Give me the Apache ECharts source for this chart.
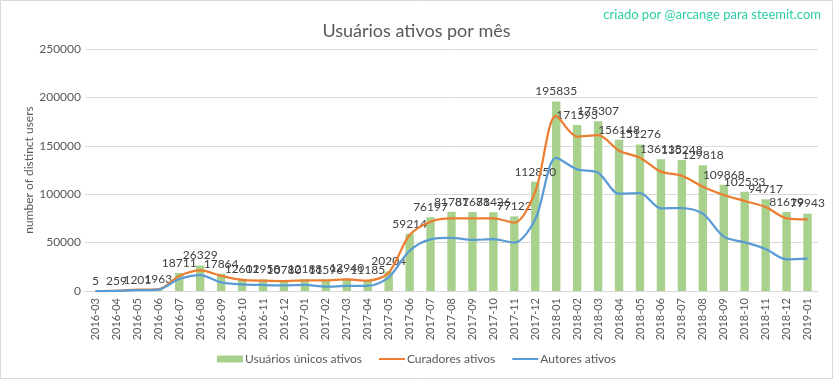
<!DOCTYPE html>
<html><head><meta charset="utf-8">
<script src="https://cdn.jsdelivr.net/npm/echarts@6/dist/echarts.min.js"></script>
<style>html,body{margin:0;padding:0;background:#fff;}#c{width:833px;height:379px;}</style>
</head><body><div id="c"></div>
<script>
const months = ["2016-03","2016-04","2016-05","2016-06","2016-07","2016-08","2016-09","2016-10","2016-11","2016-12","2017-01","2017-02","2017-03","2017-04","2017-05","2017-06","2017-07","2017-08","2017-09","2017-10","2017-11","2017-12","2018-01","2018-02","2018-03","2018-04","2018-05","2018-06","2018-07","2018-08","2018-09","2018-10","2018-11","2018-12","2019-01"];
const uniqueUsers = [5,259,1201,1963,18711,26329,17864,12602,11958,10780,12188,11596,12940,11185,20204,59214,76197,81787,81678,81426,77122,112850,195835,171593,175307,156148,151276,136118,135248,129818,109868,102533,94717,81619,79943];
const curators = [0,150,1400,1700,15600,21400,15600,11400,10700,10300,11000,11000,12000,10700,18900,57800,71600,75100,75100,75100,70600,102600,180800,159400,161100,145000,137700,123300,119100,107800,99200,93000,86800,75100,74000];
const authors = [0,200,900,1500,12400,16500,9000,6900,6200,5800,6200,4600,5200,5200,14100,41600,53400,54800,52700,53700,49900,74000,137400,125700,122200,100500,101200,85400,85700,79900,56100,50300,43400,32700,33400];

const font = "Lato";
const chart = echarts.init(document.getElementById('c'));
chart.setOption({
  animation:false,
  textStyle:{fontFamily:font},
  title:{text:"Usuários ativos por mês",left:'center',top:17,
    textStyle:{fontFamily:font,fontSize:18,fontWeight:'normal',color:'#595959'}},
  graphic:[
    {type:'rect',shape:{x:0.5,y:0.5,width:832,height:378},style:{fill:'none',stroke:'#d9d9d9',lineWidth:1},silent:true},
    {type:'text',right:12,top:8,style:{text:"criado por @arcange para steemit.com",fill:'#2ccfa5',font:'13px '+font}}
  ],
  legend:{bottom:9,left:'center',itemGap:16,itemWidth:26,itemHeight:7,
    textStyle:{fontFamily:font,fontSize:12,color:'#595959',padding:[0,0,0,-3]},
    data:[{name:"Usuários únicos ativos",icon:'rect'},
          {name:"Curadores ativos",itemStyle:{opacity:0}},
          {name:"Autores ativos",itemStyle:{opacity:0}}]},
  grid:{left:85,right:15,top:49,bottom:88,containLabel:false},
  xAxis:{type:'category',data:months,boundaryGap:true,
    axisLine:{lineStyle:{color:'#d9d9d9'}},axisTick:{show:false},
    axisLabel:{rotate:90,interval:0,fontSize:11,color:'#595959',margin:7}},
  yAxis:{type:'value',min:0,max:250000,interval:50000,
    name:"number of distinct users",nameLocation:'middle',nameGap:50,nameMoveOverlap:false,
    nameTextStyle:{fontSize:12,color:'#595959'},
    axisLine:{show:false},axisTick:{show:false},
    axisLabel:{fontSize:12,color:'#595959',margin:4,formatter:v=>String(v)},
    splitLine:{lineStyle:{color:'#d9d9d9'}}},
  series:[
    {name:"Usuários únicos ativos",type:'bar',data:uniqueUsers,barWidth:'40%',
      itemStyle:{color:'#a9d18e'},
      label:{show:true,position:'top',distance:4,fontSize:12,color:'#404040'}},
    {name:"Curadores ativos",type:'line',data:curators,smooth:0.3,symbol:'none',
      lineStyle:{color:'#ed7d31',width:2.25},itemStyle:{color:'#ed7d31'}},
    {name:"Autores ativos",type:'line',data:authors,smooth:0.3,symbol:'none',
      lineStyle:{color:'#5b9bd5',width:2.25},itemStyle:{color:'#5b9bd5'}}
  ]
});
</script></body></html>
